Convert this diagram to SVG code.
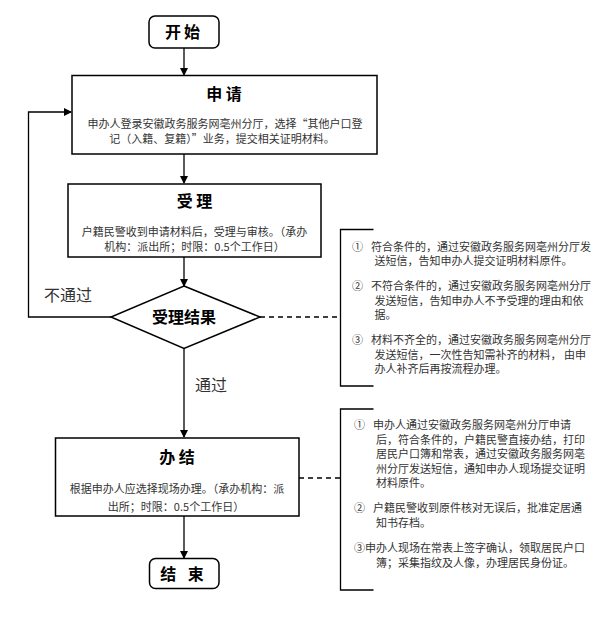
<svg xmlns="http://www.w3.org/2000/svg" width="600" height="625" viewBox="0 0 600 625">
<style>
.box{fill:#fff;stroke:#000;stroke-width:1.5}
.ln{fill:none;stroke:#000;stroke-width:1.3}
.dash{fill:none;stroke:#000;stroke-width:1.3;stroke-dasharray:5,4}
.t{font-family:"Noto Sans CJK SC","Noto Sans",sans-serif;font-weight:bold;font-size:16px;fill:#000;text-anchor:middle}
.b{font-family:"Noto Sans CJK SC","Noto Sans",sans-serif;font-size:11px;fill:#333;text-anchor:middle}
.n{font-family:"Noto Sans CJK SC","Noto Sans",sans-serif;font-size:11px;fill:#333}
.l{font-family:"Noto Sans CJK SC","Noto Sans",sans-serif;font-size:16px;fill:#333}
</style>
<defs>
<marker id="ah" markerWidth="8" markerHeight="8" refX="7" refY="4" orient="auto" markerUnits="userSpaceOnUse">
<path d="M0,0 L8,4 L0,8 Z" fill="#000"/>
</marker>
</defs>
<g id="connectors">
<line class="ln" x1="184" y1="48" x2="184" y2="75" marker-end="url(#ah)"/>
<line class="ln" x1="184" y1="154" x2="184" y2="183" marker-end="url(#ah)"/>
<line class="ln" x1="184" y1="257" x2="184" y2="286" marker-end="url(#ah)"/>
<line class="ln" x1="184" y1="348" x2="184" y2="437" marker-end="url(#ah)"/>
<line class="ln" x1="184" y1="516" x2="184" y2="558" marker-end="url(#ah)"/>
<polyline class="ln" points="111,317 28.5,317 28.5,112 71,112" marker-end="url(#ah)"/>
<line class="dash" x1="260" y1="317" x2="340" y2="317"/>
<line class="dash" x1="299" y1="478" x2="340" y2="478"/>
<text class="l" x="44" y="301">不通过</text>
<text class="l" x="195" y="391">通过</text>
</g>
<g id="start">
<rect class="box" x="149" y="16" width="70" height="32" rx="6"/>
<text class="t" x="184" y="38" letter-spacing="3">开始</text>
</g>
<g id="apply">
<rect class="box" x="72" y="75.5" width="305" height="78.5"/>
<text class="t" x="224" y="100">申 请</text>
<text class="b" x="225" y="128">申办人登录安徽政务服务网亳州分厅，选择“其他户口登</text>
<text class="b" x="222" y="143">记（入籍、复籍）”业务，提交相关证明材料。</text>
</g>
<g id="accept">
<rect class="box" x="68" y="184" width="253" height="73"/>
<text class="t" x="194.5" y="207">受 理</text>
<text class="b" x="194.5" y="236">户籍民警收到申请材料后，受理与审核。（承办</text>
<text class="b" x="194.5" y="250.5">机构：派出所；时限：0.5个工作日）</text>
</g>
<g id="result">
<polygon class="box" points="184,286 260,317 184,348.5 111,317"/>
<text class="t" x="184" y="323">受理结果</text>
</g>
<g id="finish">
<rect class="box" x="55.5" y="438" width="243.5" height="78"/>
<text class="t" x="177" y="463">办 结</text>
<text class="b" x="177" y="492.5">根据申办人应选择现场办理。（承办机构：派</text>
<text class="b" x="176" y="511">出所；时限：0.5个工作日）</text>
</g>
<g id="end">
<rect class="box" x="149.5" y="558.5" width="69.5" height="30" rx="6"/>
<text class="t" x="184" y="579.5" letter-spacing="4">结 束</text>
</g>
<g id="note1">
<polyline class="ln" points="373.5,229.5 340.5,229.5 340.5,386 373.5,386"/>
<text class="n" x="352" y="250.5">①</text>
<text class="n" x="371" y="250.5">符合条件的，通过安徽政务服务网亳州分厅发</text>
<text class="n" x="374.5" y="265">送短信，告知申办人提交证明材料原件。</text>
<text class="n" x="352" y="289.5">②</text>
<text class="n" x="371" y="289.5">不符合条件的，通过安徽政务服务网亳州分厅</text>
<text class="n" x="374.5" y="304.5">发送短信，告知申办人不予受理的理由和依</text>
<text class="n" x="374.5" y="319">据。</text>
<text class="n" x="352" y="343.5">③</text>
<text class="n" x="371" y="343.5">材料不齐全的，通过安徽政务服务网亳州分厅</text>
<text class="n" x="374.5" y="358.5">发送短信，一次性告知需补齐的材料， 由申</text>
<text class="n" x="374.5" y="373">办人补齐后再按流程办理。</text>
</g>
<g id="note2">
<polyline class="ln" points="373.5,409 340.5,409 340.5,590 373.5,590"/>
<text class="n" x="354" y="428.5">①</text>
<text class="n" x="373" y="428.5">申办人通过安徽政务服务网亳州分厅申请</text>
<text class="n" x="376" y="443.5">后，符合条件的，户籍民警直接办结，打印</text>
<text class="n" x="376" y="458">居民户口簿和常表，通过安徽政务服务网亳</text>
<text class="n" x="376" y="472.5">州分厅发送短信，通知申办人现场提交证明</text>
<text class="n" x="376" y="487">材料原件。</text>
<text class="n" x="354" y="512">②</text>
<text class="n" x="373" y="512">户籍民警收到原件核对无误后，批准定居通</text>
<text class="n" x="376" y="526.5">知书存档。</text>
<text class="n" x="354" y="551.5">③申办人现场在常表上签字确认，领取居民户口</text>
<text class="n" x="376" y="566.5">簿；采集指纹及人像，办理居民身份证。</text>
</g>
</svg>
